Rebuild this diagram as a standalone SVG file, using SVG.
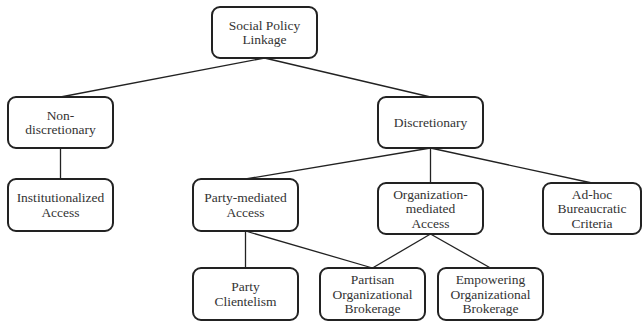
<svg xmlns="http://www.w3.org/2000/svg" width="643" height="323" viewBox="0 0 643 323">
<rect width="643" height="323" fill="#fff"/>
<g id="connectors" stroke="#222" stroke-width="1.3" fill="none">
<line x1="264.5" y1="58" x2="60.5" y2="97"/>
<line x1="264.5" y1="58" x2="430.5" y2="97"/>
<line x1="60.5" y1="148" x2="60.5" y2="179"/>
<line x1="430.5" y1="148" x2="245.5" y2="179"/>
<line x1="430.5" y1="148" x2="430.5" y2="183"/>
<line x1="430.5" y1="148" x2="592" y2="183"/>
<line x1="245.5" y1="231" x2="245.5" y2="268"/>
<line x1="245.5" y1="231" x2="372.5" y2="268"/>
<line x1="430.5" y1="234" x2="372.5" y2="268"/>
<line x1="430.5" y1="234" x2="490.5" y2="268"/>
</g>
<g id="root">
<rect x="212" y="7" width="105" height="51" rx="8" fill="#fff" stroke="#222" stroke-width="2"/>
<text font-family="Liberation Serif, Times New Roman, serif" font-size="13.5" fill="#333" text-anchor="middle" x="264.5" y="29.75">Social Policy</text>
<text font-family="Liberation Serif, Times New Roman, serif" font-size="13.5" fill="#333" text-anchor="middle" x="264.5" y="44.25">Linkage</text>
</g>
<g id="nondisc">
<rect x="8" y="97" width="105" height="51" rx="8" fill="#fff" stroke="#222" stroke-width="2"/>
<text font-family="Liberation Serif, Times New Roman, serif" font-size="13.5" fill="#333" text-anchor="middle" x="60.5" y="119.75">Non-</text>
<text font-family="Liberation Serif, Times New Roman, serif" font-size="13.5" fill="#333" text-anchor="middle" x="60.5" y="134.25">discretionary</text>
</g>
<g id="disc">
<rect x="378" y="97" width="105" height="51" rx="8" fill="#fff" stroke="#222" stroke-width="2"/>
<text font-family="Liberation Serif, Times New Roman, serif" font-size="13.5" fill="#333" text-anchor="middle" x="430.5" y="127">Discretionary</text>
</g>
<g id="inst">
<rect x="8" y="179" width="105" height="52" rx="8" fill="#fff" stroke="#222" stroke-width="2"/>
<text font-family="Liberation Serif, Times New Roman, serif" font-size="13.5" fill="#333" text-anchor="middle" x="60.5" y="202.25">Institutionalized</text>
<text font-family="Liberation Serif, Times New Roman, serif" font-size="13.5" fill="#333" text-anchor="middle" x="60.5" y="216.75">Access</text>
</g>
<g id="party">
<rect x="193" y="179" width="105" height="52" rx="8" fill="#fff" stroke="#222" stroke-width="2"/>
<text font-family="Liberation Serif, Times New Roman, serif" font-size="13.5" fill="#333" text-anchor="middle" x="245.5" y="202.25">Party-mediated</text>
<text font-family="Liberation Serif, Times New Roman, serif" font-size="13.5" fill="#333" text-anchor="middle" x="245.5" y="216.75">Access</text>
</g>
<g id="org">
<rect x="378" y="183" width="105" height="51" rx="8" fill="#fff" stroke="#222" stroke-width="2"/>
<text font-family="Liberation Serif, Times New Roman, serif" font-size="13.5" fill="#333" text-anchor="middle" x="430.5" y="198.5">Organization-</text>
<text font-family="Liberation Serif, Times New Roman, serif" font-size="13.5" fill="#333" text-anchor="middle" x="430.5" y="213">mediated</text>
<text font-family="Liberation Serif, Times New Roman, serif" font-size="13.5" fill="#333" text-anchor="middle" x="430.5" y="227.5">Access</text>
</g>
<g id="adhoc">
<rect x="543" y="183" width="98" height="51" rx="8" fill="#fff" stroke="#222" stroke-width="2"/>
<text font-family="Liberation Serif, Times New Roman, serif" font-size="13.5" fill="#333" text-anchor="middle" x="592" y="198.5">Ad-hoc</text>
<text font-family="Liberation Serif, Times New Roman, serif" font-size="13.5" fill="#333" text-anchor="middle" x="592" y="213">Bureaucratic</text>
<text font-family="Liberation Serif, Times New Roman, serif" font-size="13.5" fill="#333" text-anchor="middle" x="592" y="227.5">Criteria</text>
</g>
<g id="clientelism">
<rect x="193" y="268" width="105" height="52" rx="8" fill="#fff" stroke="#222" stroke-width="2"/>
<text font-family="Liberation Serif, Times New Roman, serif" font-size="13.5" fill="#333" text-anchor="middle" x="245.5" y="291.25">Party</text>
<text font-family="Liberation Serif, Times New Roman, serif" font-size="13.5" fill="#333" text-anchor="middle" x="245.5" y="305.75">Clientelism</text>
</g>
<g id="partisan">
<rect x="320" y="268" width="105" height="52" rx="8" fill="#fff" stroke="#222" stroke-width="2"/>
<text font-family="Liberation Serif, Times New Roman, serif" font-size="13.5" fill="#333" text-anchor="middle" x="372.5" y="284">Partisan</text>
<text font-family="Liberation Serif, Times New Roman, serif" font-size="13.5" fill="#333" text-anchor="middle" x="372.5" y="298.5">Organizational</text>
<text font-family="Liberation Serif, Times New Roman, serif" font-size="13.5" fill="#333" text-anchor="middle" x="372.5" y="313">Brokerage</text>
</g>
<g id="empowering">
<rect x="438" y="268" width="105" height="52" rx="8" fill="#fff" stroke="#222" stroke-width="2"/>
<text font-family="Liberation Serif, Times New Roman, serif" font-size="13.5" fill="#333" text-anchor="middle" x="490.5" y="284">Empowering</text>
<text font-family="Liberation Serif, Times New Roman, serif" font-size="13.5" fill="#333" text-anchor="middle" x="490.5" y="298.5">Organizational</text>
<text font-family="Liberation Serif, Times New Roman, serif" font-size="13.5" fill="#333" text-anchor="middle" x="490.5" y="313">Brokerage</text>
</g>
</svg>
